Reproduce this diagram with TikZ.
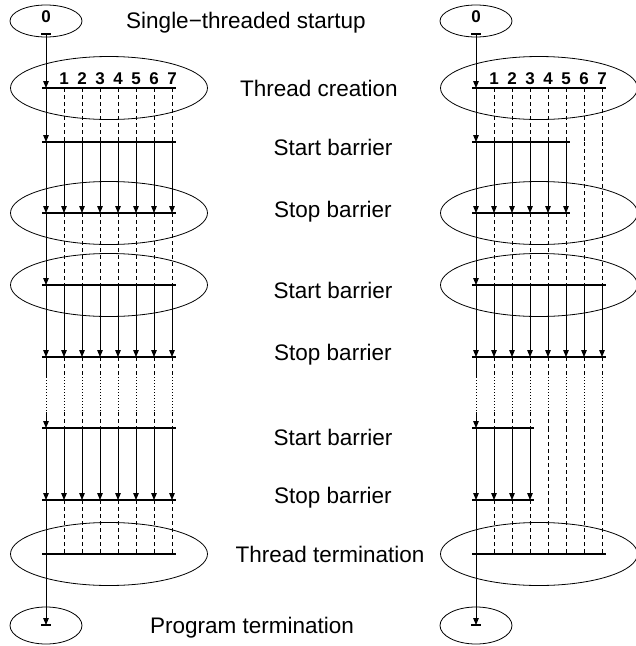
\documentclass[tikz,border=0pt]{standalone}
\usepackage{fontspec}
\setmainfont{Liberation Sans}
\usetikzlibrary{arrows.meta,shapes.geometric,calc}

% One column of threads: #1 prefix, #2 x offset,
% #3, #4, #5 number of threads working in the three parallel regions
\newcommand\threadpanel[5]{%
  \foreach \lev/\yy in {top/34,cre/88,sa/142,ea/213,sb/285,eb/357,ga/377,gb/412,sc/428,ec/500,ter/554,fin/625}
    \foreach \i in {0,...,7}
      \coordinate (#1-\lev-\i) at ({#2+46+18*\i},\yy);
  \pgfmathtruncatemacro\lastA{#3-1}%
  \pgfmathtruncatemacro\lastB{#4-1}%
  \pgfmathtruncatemacro\lastC{#5-1}%
  % rings round the expensive steps
  \node[phase] (#1-ring-cre) at ($(#1-cre-0)!0.5!(#1-cre-7)$) {};
  \node[phase] (#1-ring-ea) at ($(#1-ea-0)!0.5!(#1-ea-7)$) {};
  \node[phase] (#1-ring-sb) at ($(#1-sb-0)!0.5!(#1-sb-7)$) {};
  \node[phase] (#1-ring-ter) at ($(#1-ter-0)!0.5!(#1-ter-7)$) {};
  \node[endpoint, minimum height=32pt] (#1-begin) at ({#2+46},21) {};
  \node[endpoint, minimum height=37pt] (#1-finish) at ({#2+46},625.5) {};
  \node[tid] (#1-zero) at ({#2+46},17) {0};
  \foreach \i in {1,...,7}
    \node[tid] (#1-id-\i) at ({#2+46+18*\i},79) {\i};
  % serial start and thread creation
  \draw[tick] ([xshift=-5pt]#1-top-0) -- ([xshift=5pt]#1-top-0);
  \draw[flow] (#1-top-0) -- (#1-cre-0);
  \draw[flow] (#1-cre-0) -- (#1-sa-0);
  \foreach \i in {1,...,7} \draw[idle] (#1-cre-\i) -- (#1-sa-\i);
  % first parallel region
  \foreach \i in {0,...,7}{%
    \ifnum\i<#3\relax \draw[flow] (#1-sa-\i) -- (#1-ea-\i);
    \else \draw[idle] (#1-sa-\i) -- (#1-ea-\i); \fi}
  \draw[flow] (#1-ea-0) -- (#1-sb-0);
  \foreach \i in {1,...,7} \draw[idle] (#1-ea-\i) -- (#1-sb-\i);
  % second parallel region
  \foreach \i in {0,...,7}{%
    \ifnum\i<#4\relax \draw[flow] (#1-sb-\i) -- (#1-eb-\i);
    \else \draw[idle] (#1-sb-\i) -- (#1-eb-\i); \fi}
  % elided part of the run
  \draw[thread] (#1-eb-0) -- (#1-ga-0);
  \draw[gap] (#1-ga-0) -- (#1-gb-0);
  \draw[flow] (#1-gb-0) -- (#1-sc-0);
  \foreach \i in {1,...,7}{%
    \draw[idle] (#1-eb-\i) -- (#1-ga-\i);
    \draw[gap] (#1-ga-\i) -- (#1-gb-\i);
    \draw[idle] (#1-gb-\i) -- (#1-sc-\i);}
  % last parallel region
  \foreach \i in {0,...,7}{%
    \ifnum\i<#5\relax \draw[flow] (#1-sc-\i) -- (#1-ec-\i);
    \else \draw[idle] (#1-sc-\i) -- (#1-ec-\i); \fi}
  % thread termination and program end
  \draw[thread] (#1-ec-0) -- (#1-ter-0);
  \foreach \i in {1,...,7} \draw[idle] (#1-ec-\i) -- (#1-ter-\i);
  \draw[flow] (#1-ter-0) -- (#1-fin-0);
  \draw[tick] ([xshift=-5pt]#1-fin-0) -- ([xshift=5pt]#1-fin-0);
  % barriers
  \draw[barline] ([xshift=-4pt]#1-cre-0) -- ([xshift=4pt]#1-cre-7);
  \draw[barline] ([xshift=-4pt]#1-sa-0) -- ([xshift=4pt]#1-sa-\lastA);
  \draw[barline] ([xshift=-4pt]#1-ea-0) -- ([xshift=4pt]#1-ea-\lastA);
  \draw[barline] ([xshift=-4pt]#1-sb-0) -- ([xshift=4pt]#1-sb-\lastB);
  \draw[barline] ([xshift=-4pt]#1-eb-0) -- ([xshift=4pt]#1-eb-\lastB);
  \draw[barline] ([xshift=-4pt]#1-sc-0) -- ([xshift=4pt]#1-sc-\lastC);
  \draw[barline] ([xshift=-4pt]#1-ec-0) -- ([xshift=4pt]#1-ec-\lastC);
  \draw[barline] ([xshift=-4pt]#1-ter-0) -- ([xshift=4pt]#1-ter-7);
}

\begin{document}
\begin{tikzpicture}[x=1pt,y=-1pt,
  thread/.style={line width=1pt},
  flow/.style={thread,-{Triangle[length=7pt,width=5.6pt]}},
  idle/.style={thread,dash pattern=on 4pt off 3pt},
  gap/.style={thread,dash pattern=on 1pt off 2pt},
  barline/.style={line width=2.3pt},
  tick/.style={line width=1.8pt},
  phase/.style={draw,ellipse,line width=0.8pt,minimum width=197pt,minimum height=63pt,inner sep=0pt},
  endpoint/.style={draw,ellipse,line width=0.8pt,minimum width=72pt,inner sep=0pt},
  steplabel/.style={font=\fontsize{22.5}{27}\selectfont,inner sep=0pt},
  tid/.style={font=\bfseries\fontsize{17}{19}\selectfont,inner sep=0pt}
]
\useasboundingbox (0,0) rectangle (636,646);

\threadpanel{L}{0}{8}{8}{8}
\threadpanel{R}{430}{6}{8}{4}

\node[steplabel] (t-single) at (246,23) {Single−threaded startup};
\node[steplabel] (t-create) at (319,88) {Thread creation};
\node[steplabel] (t-start1) at (333,147) {Start barrier};
\node[steplabel] (t-stop1) at (333,212) {Stop barrier};
\node[steplabel] (t-start2) at (333,290) {Start barrier};
\node[steplabel] (t-stop2) at (333,355) {Stop barrier};
\node[steplabel] (t-start3) at (333,437) {Start barrier};
\node[steplabel] (t-stop3) at (333,498) {Stop barrier};
\node[steplabel] (t-term) at (330,554) {Thread termination};
\node[steplabel] (t-prog) at (252,628) {Program termination};
\end{tikzpicture}
\end{document}
